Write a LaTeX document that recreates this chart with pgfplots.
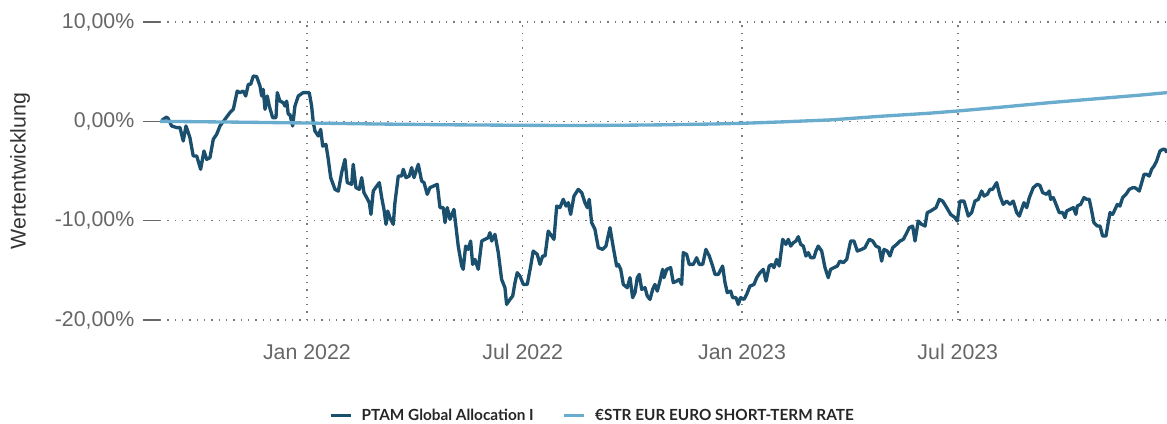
\documentclass[border=0pt]{standalone}
\usepackage{fontspec}
\setmainfont{Liberation Sans}
\newfontfamily\legendfont{Lato}
\usepackage{pgfplots}
\pgfplotsset{compat=1.18}
\usetikzlibrary{calc}

\definecolor{fund}{HTML}{1A4F6E}
\definecolor{estr}{HTML}{6AACCD}
\definecolor{ticktext}{HTML}{666666}
\definecolor{gridc}{HTML}{7A7A7A}

% x = days since 1 Jan 2022, y = performance in %
\pgfplotstableread{
d v
-121.9 0.10
-117.7 0.43
-116.4 0.27
-113.5 -0.47
-109.3 -0.63
-106.5 -0.63
-103.8 -1.98
-101.5 -0.47
-98.2 -1.64
-95.4 -3.49
-92.5 -3.49
-89.2 -4.83
-86.4 -2.99
-84.1 -3.83
-81.4 -3.66
-78.6 -1.81
-75.8 -1.31
-73.0 -0.47
-68.8 0.20
-64.6 0.88
-61.8 1.21
-58.5 3.05
-56.2 2.89
-53.4 3.05
-51.4 2.55
-49.2 3.73
-47.2 3.73
-45.0 4.56
-42.2 4.50
-39.4 3.55
-38.0 2.55
-36.7 3.22
-35.2 1.21
-33.3 2.55
-31.6 1.54
-28.8 0.37
-26.0 0.37
-24.9 2.89
-22.7 2.04
-19.9 1.88
-18.5 1.54
-17.0 2.04
-15.7 0.70
-14.3 0.70
-12.0 -0.47
-10.1 1.54
-7.3 2.55
-3.1 2.89
1.9 2.89
3.9 1.54
5.3 -0.13
6.7 -0.98
9.5 -1.48
11.5 -0.81
13.2 -2.49
15.9 -2.32
17.9 -3.83
19.9 -5.67
23.5 -6.85
26.3 -7.02
29.1 -5.17
31.9 -3.83
33.8 -6.17
37.5 -6.34
38.8 -4.33
41.1 -6.68
43.9 -6.85
45.9 -5.67
47.8 -7.18
50.1 -7.68
52.3 -8.19
53.7 -9.37
55.6 -7.02
58.5 -6.52
60.7 -6.17
62.7 -7.68
64.6 -8.86
66.3 -10.37
67.7 -9.03
69.6 -9.70
72.4 -10.37
73.8 -8.19
76.6 -5.51
79.4 -5.51
80.8 -4.83
83.1 -5.67
85.8 -5.51
87.8 -4.66
89.8 -5.67
93.4 -4.33
96.2 -6.01
98.2 -6.17
100.9 -7.35
103.2 -6.68
109.3 -6.34
111.6 -8.69
114.3 -8.69
115.8 -10.20
117.7 -8.69
120.0 -9.87
123.3 -8.86
126.9 -12.56
129.8 -14.57
131.1 -14.90
133.1 -12.56
135.3 -12.89
137.3 -12.05
139.0 -14.40
140.9 -13.90
143.7 -14.90
146.6 -12.05
149.3 -11.88
152.1 -11.71
153.5 -11.21
155.0 -12.05
157.7 -11.38
160.5 -13.22
163.3 -15.91
166.1 -16.75
167.5 -18.43
170.3 -17.93
172.6 -17.59
174.5 -16.24
176.4 -15.24
178.7 -15.58
181.5 -16.42
184.8 -16.42
187.7 -14.57
189.8 -13.06
193.2 -13.39
195.5 -14.40
197.7 -13.56
199.7 -13.56
202.4 -11.05
205.3 -11.55
207.2 -11.88
209.5 -8.53
212.2 -8.69
215.0 -7.85
217.3 -8.53
219.2 -8.19
221.2 -9.37
224.0 -7.52
227.6 -6.85
230.5 -7.18
233.2 -8.19
235.2 -8.69
236.8 -7.85
238.8 -10.20
241.6 -10.88
244.4 -12.72
248.1 -12.89
250.8 -12.56
254.2 -10.70
257.0 -12.72
259.8 -14.57
261.2 -14.40
263.2 -14.90
265.4 -16.42
268.7 -16.75
271.0 -15.74
273.2 -17.75
275.2 -17.25
277.1 -15.74
278.8 -15.41
280.8 -16.92
283.6 -16.75
285.5 -17.59
287.8 -17.93
290.0 -16.92
291.9 -16.42
293.9 -17.09
296.1 -16.08
298.4 -14.90
299.5 -15.74
301.8 -14.90
305.1 -14.73
307.3 -16.24
310.2 -16.08
312.3 -15.91
314.3 -16.42
315.7 -13.22
318.5 -13.39
320.7 -14.40
324.1 -14.40
326.9 -13.73
329.1 -14.40
332.0 -14.40
334.7 -12.89
337.5 -13.56
340.3 -14.57
342.3 -15.41
345.1 -15.41
348.7 -14.57
350.7 -16.24
352.6 -17.25
355.5 -17.09
357.1 -17.75
359.9 -17.75
361.8 -18.43
363.8 -17.75
366.6 -17.93
368.9 -17.42
371.6 -16.59
375.0 -16.42
377.3 -15.74
380.0 -15.24
382.8 -14.90
385.1 -16.08
387.8 -14.57
389.8 -14.40
391.8 -14.73
394.0 -13.90
396.2 -14.57
399.1 -11.88
401.8 -12.39
403.8 -11.88
405.8 -12.56
408.0 -12.22
410.2 -12.05
412.2 -11.61
414.2 -12.39
416.4 -12.56
418.6 -13.56
420.6 -13.22
422.6 -13.73
425.3 -13.73
427.0 -13.06
428.9 -12.56
431.8 -13.06
434.6 -14.73
437.3 -15.74
439.3 -14.90
442.1 -14.73
444.9 -14.57
447.1 -14.07
449.9 -14.23
452.8 -13.90
456.1 -12.05
458.9 -12.05
461.7 -13.06
465.3 -12.89
468.1 -12.72
471.7 -11.88
474.6 -12.05
477.3 -12.56
480.1 -12.72
482.1 -14.07
484.1 -12.89
486.8 -13.06
489.1 -13.56
491.4 -12.72
494.7 -12.39
497.5 -12.05
500.3 -11.88
502.5 -11.38
505.3 -10.70
508.1 -10.54
510.1 -12.05
512.8 -10.04
515.7 -10.37
518.5 -10.54
520.4 -9.19
523.2 -9.03
525.4 -8.86
527.7 -8.69
530.5 -7.85
533.3 -8.03
536.7 -8.69
540.0 -9.37
543.6 -9.70
545.6 -10.04
547.8 -8.03
551.2 -8.03
554.8 -9.54
557.6 -9.19
560.4 -8.03
563.2 -7.85
566.0 -7.02
568.0 -7.52
570.7 -7.35
573.0 -6.85
575.2 -6.85
578.6 -6.17
581.4 -7.52
584.1 -8.36
587.0 -8.03
589.8 -8.36
592.5 -8.03
595.4 -9.19
597.6 -9.54
601.5 -8.19
603.8 -8.69
606.0 -7.68
609.3 -6.68
612.7 -6.34
614.9 -6.45
617.2 -7.18
620.5 -7.35
622.7 -7.02
623.9 -7.85
626.1 -7.68
628.4 -8.36
631.1 -9.19
634.0 -9.19
635.9 -9.70
637.3 -9.03
640.1 -8.86
642.9 -8.69
645.1 -9.37
646.2 -8.53
649.1 -8.36
651.8 -7.68
654.1 -7.85
656.3 -7.85
658.3 -9.03
660.2 -10.20
663.0 -10.54
665.3 -10.54
667.5 -11.55
670.3 -11.55
672.2 -10.20
673.7 -9.19
675.9 -9.37
677.9 -8.86
679.8 -8.36
682.0 -8.53
684.3 -7.68
687.1 -7.35
689.8 -6.85
692.7 -6.68
694.6 -6.68
696.6 -6.85
698.2 -7.02
700.3 -6.17
702.2 -5.34
704.4 -5.34
706.6 -5.51
708.6 -4.83
710.6 -4.50
712.8 -4.00
715.6 -2.99
717.9 -2.82
719.8 -2.82
721.5 -3.15
}\fundtable

\pgfplotstableread{
d v
-123.3 0.00
-60 -0.08
0 -0.17
60 -0.27
120 -0.35
181 -0.40
220 -0.42
260 -0.40
300 -0.35
340 -0.27
365 -0.20
400 -0.05
440 0.15
480 0.50
520 0.80
546 1.04
580 1.40
623 1.88
660 2.25
700 2.65
721.5 2.89
}\estrtable

\begin{document}
\begin{tikzpicture}
\begin{axis}[
  name=ax,
  scale only axis,
  width=755.25pt, height=223.5pt,
  xmin=-123.3, xmax=721.5,
  ymin=-20, ymax=10,
  axis line style={draw=none},
  xtick={0,181,365,546},
  xticklabels={Jan 2022, Jul 2022, Jan 2023, Jul 2023},
  ytick={-20,-10,0,10},
  yticklabels={{-20,00\%},{-10,00\%},{0,00\%},{10,00\%}},
  ticklabel style={font=\fontsize{16}{19}\selectfont, text=ticktext},
  yticklabel style={xshift=-3pt},
  xticklabel style={yshift=-2pt},
  x tick style={draw=none},
  y tick style={draw=ticktext, line width=1.1pt},
  tick align=outside,
  major tick length=12.75pt,
  grid=major,
  major grid style={draw=gridc, line width=1.1pt, dash pattern=on 1.1pt off 4.4pt},
  ylabel={Wertentwicklung},
  every axis y label/.style={at={(axis description cs:-0.139,0.5)}, rotate=90, anchor=center,
    font=\fontsize{16}{19}\selectfont, text=black!80},
  legend columns=2,
  legend style={at={(axis description cs:0.43,-0.322)}, anchor=center, draw=none, fill=none,
    font=\legendfont\bfseries\fontsize{11.5}{14}\selectfont, text=black!85,
    /tikz/every odd column/.append style={column sep=5pt},
    /tikz/every even column/.append style={column sep=20pt}},
  legend image code/.code={\draw[#1, line width=2.2pt] (0pt,0pt) -- (15pt,0pt);},
]
\addplot[fund, line width=2.5pt, line join=round] table[x=d, y=v] {\fundtable};
\addlegendentry{PTAM Global Allocation I}
\addplot[estr, line width=2.5pt, line join=round] table[x=d, y=v] {\estrtable};
\addlegendentry{€STR EUR EURO SHORT-TERM RATE}
\end{axis}
\pgfresetboundingbox
\path ($(ax.south west)+(-120pt,-78pt)$) rectangle ($(ax.north east)+(0pt,16.5pt)$);
\end{tikzpicture}
\end{document}
